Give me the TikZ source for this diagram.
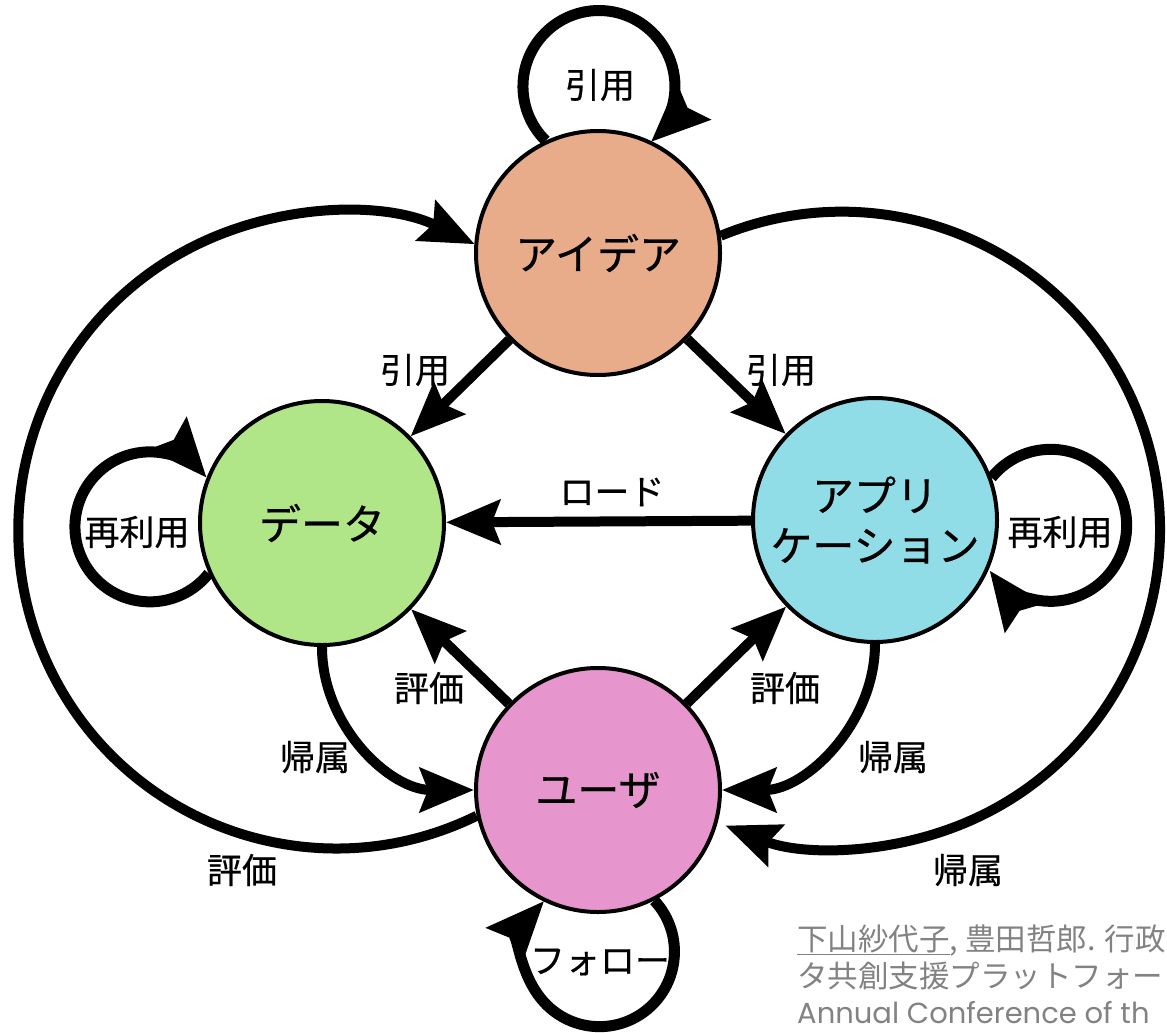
\documentclass[tikz,border=0pt]{standalone}
\usepackage{fontspec}
\newfontfamily\jp{Noto Sans CJK JP}
\newfontfamily\jpb[FakeBold=0.5]{Noto Sans CJK JP}
\newfontfamily\lat{Poppins}
\usetikzlibrary{arrows.meta,bending}
\definecolor{ideac}{RGB}{232,172,138}
\definecolor{datac}{RGB}{176,230,136}
\definecolor{appc}{RGB}{144,221,232}
\definecolor{userc}{RGB}{230,150,204}
\definecolor{citec}{RGB}{130,130,130}
\begin{document}
\begin{tikzpicture}[x=1pt,y=-1pt,
  state/.style={circle, draw, line width=4pt, minimum size=244pt, inner sep=0pt,
    font=\jpb\fontsize{42}{50}\selectfont, align=center},
  link/.style={line width=10pt, -{Stealth[length=54pt,width=44pt,inset=8pt,quick]}},
  selfloop/.style={line width=11pt, -{Stealth[length=58pt,width=48pt,inset=8pt,quick]}},
  lbl/.style={font=\jpb\fontsize{35}{40}\selectfont, inner sep=0pt},
  cite/.style={text=citec, inner sep=0pt, text depth=0pt, font=\jp\fontsize{30.5}{36}\selectfont}]
\useasboundingbox (0,0) rectangle (1167,1033);

\node[state, fill=ideac] (idea) at (598,253) {アイデア};
\node[state, fill=datac] (data) at (322,523) {データ};
\node[state, fill=appc]  (app)  at (875,520) {アプリ\\ケーション};
\node[state, fill=userc] (user) at (598,790) {ユーザ};

% straight connectors
\draw[link] (idea) -- (data);
\draw[link] (idea) -- (app);
\draw[link] (app) -- (data);
\draw[link] (user) -- (data);
\draw[link] (user) -- (app);

% curved connectors
\draw[link] (data.south) .. controls +(0,79) and +(-84,0) .. (user.west);
\draw[link] (app.south) .. controls +(0,79) and +(84,0) .. (user.east);
\draw[link] (user.192) arc[start angle=63.8, end angle=295.8, radius=318];
\draw[link] (idea.8) arc[start angle=247.6, end angle=471.5, radius=318];

% self loops
\draw[selfloop] (idea.115) arc[start angle=134.6, end angle=406.8, radius=76];
\draw[selfloop] (data.204) arc[start angle=38.4, end angle=319, radius=75];
\draw[selfloop] (app.20) arc[start angle=218.9, end angle=503.4, radius=76];
\draw[selfloop] (user.-63) arc[start angle=317, end angle=582.4, radius=75];

% labels
\node[lbl] (l1) at (600,85) {引用};
\node[lbl] (l2) at (415,370) {引用};
\node[lbl] (l3) at (781,370) {引用};
\node[lbl] (l4) at (612,492) {ロード};
\node[lbl] (l5) at (429,688) {評価};
\node[lbl] (l6) at (785,688) {評価};
\node[lbl] (l7) at (315,757) {帰属};
\node[lbl] (l8) at (893,757) {帰属};
\node[lbl] (l9) at (242,870) {評価};
\node[lbl] (l10) at (968,870) {帰属};
\node[lbl] (l11) at (137,532) {再利用};
\node[lbl] (l12) at (1060,532) {再利用};
\node[lbl] (l13) at (600,962) {フォロー};

% citation
\node[cite, anchor=base west] (c1) at (797,950) {\underline{下山紗代子}, 豊田哲郎. 行政};
\node[cite, anchor=base west] (c2) at (797,987) {タ共創支援プラットフォー};
\node[cite, anchor=base west, font=\lat\fontsize{29}{34}\selectfont] (c3) at (797,1023) {Annual Conference of th};
\end{tikzpicture}
\end{document}
